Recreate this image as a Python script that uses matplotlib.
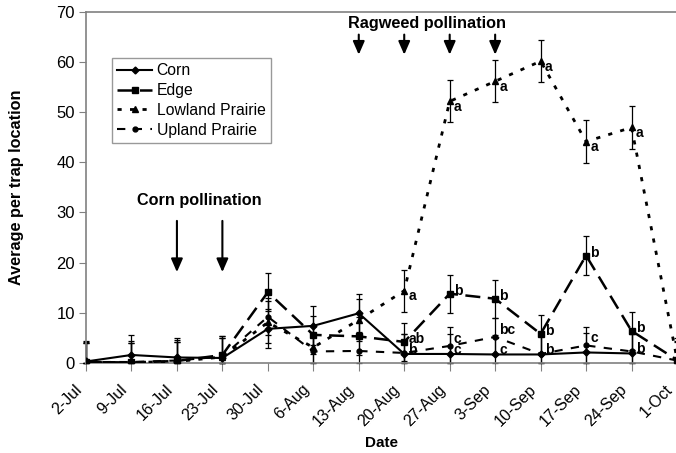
import numpy as np
import matplotlib
matplotlib.use("Agg")
import matplotlib.pyplot as plt

plt.rcParams['font.family'] = ['Liberation Sans', 'DejaVu Sans']

dates = ["2-Jul", "9-Jul", "16-Jul", "23-Jul", "30-Jul", "6-Aug", "13-Aug",
         "20-Aug", "27-Aug", "3-Sep", "10-Sep", "17-Sep", "24-Sep", "1-Oct"]

corn = [0.3, 1.6, 1.1, 1.0, 6.8, 7.4, 9.9, 1.8, 1.8, 1.7, 1.7, 2.1, 1.9, np.nan]
edge = [0.2, 0.1, 0.4, 1.6, 14.1, 5.6, 5.3, 4.2, 13.8, 12.8, 5.8, 21.4, 6.4, 0.6]
lowland = [0.1, 0.1, 0.3, 1.2, 8.1, 3.1, 8.6, 14.4, 52.1, 56.1, 60.1, 44.1, 46.9, 0.8]
upland = [0.2, 0.2, 0.5, 1.3, 9.2, 2.3, 2.4, 2.0, 3.4, 5.2, 1.8, 3.5, 2.3, 0.5]

corn_err = [3.9] * 14
edge_err = [3.8] * 14
lowland_err = [4.2] * 14
upland_err = [3.7] * 14

corn_letters = ["", "", "", "", "", "", "", "b", "c", "c", "b", "", "b", ""]
edge_letters = ["", "", "", "", "", "", "", "ab", "b", "b", "b", "b", "b", ""]
lowland_letters = ["", "", "", "", "", "", "", "a", "a", "a", "a", "a", "a", ""]
upland_letters = ["", "", "", "", "", "", "", "", "c", "bc", "", "c", "", ""]

names = ["Corn", "Edge", "Lowland Prairie", "Upland Prairie"]

corn_poll_dates = ["16-Jul", "23-Jul"]
ragweed_poll_dates = ["13-Aug", "20-Aug", "27-Aug", "3-Sep"]

fig = plt.figure(figsize=(6.76, 4.53), dpi=100)
ax = fig.add_axes([86 / 676, 1 - 363 / 453, 591 / 676, 351.5 / 453])

x = np.arange(len(dates))

series = [
    (corn, corn_err, corn_letters, dict(ls='-', lw=1.5, marker='D', ms=3.5), (3, 3)),
    (edge, edge_err, edge_letters, dict(ls=(0, (6, 3)), lw=1.8, marker='s', ms=4.5), (3, 2)),
    (lowland, lowland_err, lowland_letters, dict(ls=(0, (1.5, 3)), lw=2.0, marker='^', ms=4.5), (3, -4)),
    (upland, upland_err, upland_letters, dict(ls=(0, (4, 4)), lw=1.5, marker='o', ms=3.5), (3, 5)),
]

for (vals, err, letters, st, off), name in zip(series, names):
    v = np.array(vals, dtype=float)
    e = np.array(err, dtype=float)
    lower = np.minimum(e, np.nan_to_num(v))
    eb = ax.errorbar(x, v, yerr=[lower, e], fmt='none', ecolor='black', elinewidth=0.9,
                     capsize=2.3, capthick=0.9, zorder=2)
    for art in eb.lines[1] + eb.lines[2]:
        art.set_clip_on(False)
    ax.plot(x, v, color='black', label=name, zorder=3, **st)
    for xi, vi, lab in zip(x, v, letters):
        if lab:
            ax.annotate(lab, (xi, vi), xytext=off, textcoords='offset points',
                        ha='left', va='center', fontsize=10, fontweight='bold')

ax.set_xlim(0, 13)
ax.set_ylim(0, 70)
ax.set_yticks(np.arange(0, 71, 10))
ax.set_xticks(x)
ax.tick_params(axis='x', labelbottom=False, direction='out', length=6, color='#808080')
for xi, d in zip(x, dates):
    ax.annotate(d, xy=(xi, 0), xycoords=('data', 'axes fraction'),
                xytext=(-8.6, -13.5), textcoords='offset points',
                rotation=45, ha='right', va='top', rotation_mode='anchor',
                fontsize=11.5, annotation_clip=False)
ax.tick_params(axis='y', labelsize=12, direction='out', length=5, color='#808080', pad=3)

for s in ['left', 'bottom', 'top']:
    ax.spines[s].set_color('#808080')
    ax.spines[s].set_linewidth(1.2)
ax.spines['right'].set_visible(False)

ax.set_xlabel("Date", fontsize=11, fontweight='bold')
ax.set_ylabel("Average per trap location", fontsize=11.7, fontweight='bold')
ax.xaxis.set_label_coords((381 - 86) / 591, (363 - 436) / 351.5)
ax.yaxis.set_label_coords((24 - 86) / 591, 0.5)

arrow_kw = dict(arrowstyle='-|>,head_width=0.35,head_length=0.8', color='black', lw=1.5,
                shrinkA=0, shrinkB=0)
for d in corn_poll_dates:
    i = dates.index(d)
    ax.annotate("", xy=(i, 18.1), xytext=(i, 28.3), arrowprops=arrow_kw)
ci = [dates.index(d) for d in corn_poll_dates]
ax.text(np.mean(ci), 32.3, "Corn pollination", ha='center', va='center',
        fontsize=11.7, fontweight='bold')

for d in ragweed_poll_dates:
    i = dates.index(d)
    ax.annotate("", xy=(i, 61.4), xytext=(i, 65.4), arrowprops=arrow_kw)
ri = [dates.index(d) for d in ragweed_poll_dates]
ax.text(np.mean(ri), 67.7, "Ragweed pollination", ha='center', va='center',
        fontsize=11.7, fontweight='bold')

leg = ax.legend(loc='upper left', bbox_to_anchor=((112 - 86) / 591, (363 - 58) / 351.5),
                borderaxespad=0, fontsize=11.3, frameon=True, fancybox=False,
                handlelength=2.2, handletextpad=0.3, labelspacing=0.3,
                borderpad=0.35)
leg.get_frame().set_edgecolor('#808080')
leg.get_frame().set_linewidth(1.0)

fig.savefig("out.png", dpi=100)
